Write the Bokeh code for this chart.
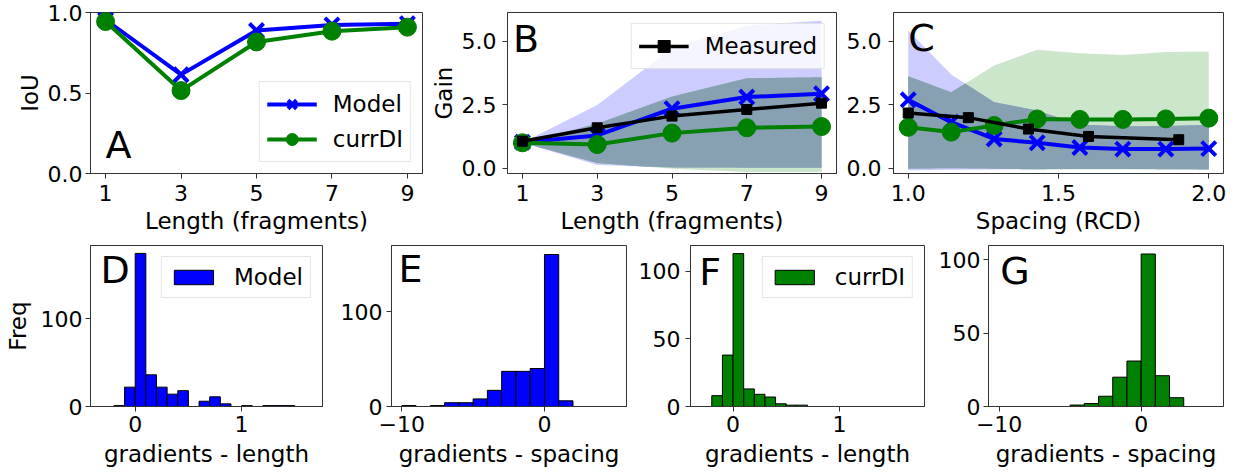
import numpy as np
from bokeh.plotting import figure
from bokeh.layouts import column, row
from bokeh.models import Range1d, FixedTicker, Legend, LegendItem, Label, PrintfTickFormatter
from bokeh.embed import file_html
from bokeh.resources import INLINE

FONT = "DejaVu Sans"
BLUE = "#0000ff"
GREEN = "#008000"
BLACK = "#000000"
OVERLAP = "#87a1b2"

# ---------------- data ----------------
# Panel A: IoU vs length
len_frag = [1, 3, 5, 7, 9]
iou_model = [0.955, 0.614, 0.888, 0.923, 0.930]
iou_curr = [0.944, 0.515, 0.817, 0.884, 0.909]

# Panel B: gain vs length
gain_len_model = [1.02, 1.29, 2.34, 2.80, 2.93]
gain_len_model_lo = [1.0, 0.12, 0.03, 0.02, 0.02]
gain_len_model_hi = [1.0, 2.49, 4.72, 5.62, 5.81]
gain_len_curr = [1.0, 0.93, 1.38, 1.59, 1.64]
gain_len_curr_lo = [1.0, 0.20, -0.02, -0.15, -0.15]
gain_len_curr_hi = [1.0, 1.75, 2.82, 3.54, 3.58]
gain_len_meas = [1.06, 1.59, 2.05, 2.31, 2.56]

# Panel C: gain vs spacing
spacing = [1.0, 1.143, 1.286, 1.429, 1.571, 1.714, 1.857, 2.0]
gain_sp_model = [2.69, 1.81, 1.15, 1.00, 0.81, 0.75, 0.75, 0.77]
gain_sp_model_lo = [-0.08, -0.06, -0.05, -0.04, -0.03, -0.03, -0.04, -0.05]
gain_sp_model_hi = [5.42, 3.69, 2.60, 2.27, 1.72, 1.65, 1.66, 1.71]
gain_sp_curr = [1.61, 1.42, 1.68, 1.94, 1.92, 1.92, 1.94, 1.97]
gain_sp_curr_lo = [-0.02, 0.0, -0.02, -0.05, -0.05, -0.05, -0.05, -0.05]
gain_sp_curr_hi = [3.62, 2.99, 4.04, 4.66, 4.53, 4.46, 4.57, 4.59]
spacing_meas = [1.0, 1.2, 1.4, 1.6, 1.9]
gain_sp_meas = [2.17, 1.99, 1.54, 1.25, 1.12]

# Histograms
len_bin_edges = [-0.2, -0.1, 0.0, 0.1, 0.2, 0.3, 0.4, 0.5, 0.6, 0.7, 0.8,
                 0.9, 1.0, 1.1, 1.2, 1.3, 1.4, 1.5]
grad_len_model = [1, 22, 174, 36, 22, 14, 18, 0, 6, 11, 3, 0, 1, 0, 1, 1, 1]
grad_len_curr = [8, 38, 113, 13, 9, 7, 2, 1, 1, 0, 0, 0, 0, 0, 0, 0, 0]
sp_bin_edges = [-10, -9, -8, -7, -6, -5, -4, -3, -2, -1, 0, 1, 2, 3, 4, 5]
grad_sp_model = [1, 0, 1, 4, 4, 8, 17, 37, 37, 40, 160, 6, 0, 0, 0]
grad_sp_curr = [0, 0, 0, 0, 0, 1, 2, 7, 20, 31, 104, 21, 6, 0, 0]


# ---------------- helpers ----------------
def make(xr, yr, fw, fh, bl, br, bt, bb):
    p = figure(width=bl + fw + br, height=bt + fh + bb, frame_width=fw, frame_height=fh,
               x_range=Range1d(*xr), y_range=Range1d(*yr),
               min_border_left=bl, min_border_right=br, min_border_top=bt, min_border_bottom=bb,
               output_backend="svg", toolbar_location=None)
    p.xgrid.visible = False
    p.ygrid.visible = False
    p.outline_line_color = "#333333"
    p.outline_line_width = 1
    p.outline_line_alpha = 1
    p.background_fill_color = "white"
    p.border_fill_color = "white"
    return p


def style(p, xticks, yticks, xlabel, ylabel, ystand, xstand, xlabstand, ylabstand=2,
          xfmt=None, yfmt=None, xover=None):
    for ax in (p.xaxis[0], p.yaxis[0]):
        ax.major_tick_in = 0
        ax.major_tick_out = 5
        ax.minor_tick_in = 0
        ax.minor_tick_out = 0
        ax.axis_line_color = "#333333"
        ax.major_tick_line_color = "#333333"
        ax.major_label_text_font = FONT
        ax.major_label_text_font_size = "22px"
        ax.major_label_text_color = "black"
        ax.axis_label_text_font = FONT
        ax.axis_label_text_font_size = "23px"
        ax.axis_label_text_font_style = "normal"
        ax.axis_label_text_color = "black"
    p.xaxis[0].axis_label_standoff = xlabstand
    p.yaxis[0].axis_label_standoff = ylabstand
    p.xaxis[0].major_label_standoff = xstand
    p.yaxis[0].major_label_standoff = ystand
    p.xaxis[0].ticker = FixedTicker(ticks=xticks)
    p.yaxis[0].ticker = FixedTicker(ticks=yticks)
    if xlabel:
        p.xaxis[0].axis_label = xlabel
    if ylabel:
        p.yaxis[0].axis_label = ylabel
    if xfmt:
        p.xaxis[0].formatter = PrintfTickFormatter(format=xfmt)
    if yfmt:
        p.yaxis[0].formatter = PrintfTickFormatter(format=yfmt)
    if xover:
        p.xaxis[0].major_label_overrides = xover


def letter(p, text, x, y):
    p.add_layout(Label(x=x, y=y, text=text, text_font=FONT, text_font_size="38px",
                       text_baseline="middle", text_align="left", text_color="black"))


def legend(p, items, loc, gw, gh, lh, pad):
    lg = Legend(items=items, location=loc, label_text_font=FONT, label_text_font_size="23px",
                label_text_color="black",
                glyph_width=gw, glyph_height=gh, label_height=lh, label_standoff=16,
                padding=pad, spacing=5, margin=11, border_line_color="#cccccc",
                border_line_width=1, background_fill_alpha=0.8)
    p.add_layout(lg)
    return lg


def overlap(x, lo1, hi1, lo2, hi2):
    x = np.asarray(x, float)
    grid = np.union1d(x, np.linspace(x[0], x[-1], 600))
    lo = np.maximum(np.interp(grid, x, lo1), np.interp(grid, x, lo2))
    hi = np.minimum(np.interp(grid, x, hi1), np.interp(grid, x, hi2))
    hi = np.maximum(hi, lo)
    return grid, lo, hi


def lines(p, x, y, color, marker, size, lw=4):
    l = p.line(x, y, line_color=color, line_width=lw)
    if marker == "x":
        m = p.scatter(x, y, marker="x", size=size, line_color=color, line_width=4)
    else:
        m = p.scatter(x, y, marker=marker, size=size, fill_color=color, line_color=color)
    return l, m


# ---------------- Panel A ----------------
pa = make((0.6, 9.4), (0.0, 1.0), 332, 161, 90, 1, 12, 64)
style(pa, len_frag, [0.0, 0.5, 1.0], "Length (fragments)", "IoU", 3, 6, 4, yfmt="%.1f")
la1, ma1 = lines(pa, len_frag, iou_model, BLUE, "x", 20)
la2, ma2 = lines(pa, len_frag, iou_curr, GREEN, "circle", 18)
legend(pa, [LegendItem(label="Model", renderers=[la1, ma1]),
            LegendItem(label="currDI", renderers=[la2, ma2])], "bottom_right", 50, 30, 30, 7)
letter(pa, "A", 1.0, 0.18)

# ---------------- Panel B ----------------
pb = make((0.6, 9.4), (-0.21, 6.13), 329, 161, 84, 5, 12, 64)
style(pb, len_frag, [0.0, 2.5, 5.0], "Length (fragments)", "Gain", 6, 6, 4, yfmt="%.1f")
pb.varea(len_frag, gain_len_model_lo, gain_len_model_hi, fill_color=BLUE, fill_alpha=0.2)
pb.varea(len_frag, gain_len_curr_lo, gain_len_curr_hi, fill_color=GREEN, fill_alpha=0.2)
gx, glo, ghi = overlap(len_frag, gain_len_model_lo, gain_len_model_hi, gain_len_curr_lo, gain_len_curr_hi)
pb.varea(gx, glo, ghi, fill_color=OVERLAP, fill_alpha=1.0)
lines(pb, len_frag, gain_len_model, BLUE, "x", 20)
lines(pb, len_frag, gain_len_curr, GREEN, "circle", 18)
lb, mb = lines(pb, len_frag, gain_len_meas, BLACK, "square", 10, lw=3.5)
legend(pb, [LegendItem(label="Measured", renderers=[lb, mb])], "top_right", 50, 30, 30, 7)
letter(pb, "B", 0.75, 5.09)

# ---------------- Panel C ----------------
pc = make((0.951, 2.049), (-0.21, 6.13), 330, 161, 52, 18, 12, 64)
style(pc, [1.0, 1.5, 2.0], [0.0, 2.5, 5.0], "Spacing (RCD)", None, 7, 6, 4, xfmt="%.1f", yfmt="%.1f")
pc.varea(spacing, gain_sp_model_lo, gain_sp_model_hi, fill_color=BLUE, fill_alpha=0.2)
pc.varea(spacing, gain_sp_curr_lo, gain_sp_curr_hi, fill_color=GREEN, fill_alpha=0.2)
cx, clo, chi = overlap(spacing, gain_sp_model_lo, gain_sp_model_hi, gain_sp_curr_lo, gain_sp_curr_hi)
pc.varea(cx, clo, chi, fill_color=OVERLAP, fill_alpha=1.0)
lines(pc, spacing, gain_sp_model, BLUE, "x", 20)
lines(pc, spacing, gain_sp_curr, GREEN, "circle", 18)
lines(pc, spacing_meas, gain_sp_meas, BLACK, "square", 10, lw=3.5)
letter(pc, "C", 1.0, 5.13)


# ---------------- Histograms ----------------
def hist(p, edges, counts, color):
    e = np.asarray(edges, float)
    return p.quad(left=e[:-1], right=e[1:], bottom=0, top=counts, fill_color=color,
                  line_color="black", line_width=1)


pd_ = make((-0.42, 1.76), (0, 183), 232, 161, 90, 11, 8, 67)
style(pd_, [0, 1], [0, 100], "gradients - length", "Freq", 3, 4, 6, ylabstand=7)
hd = hist(pd_, len_bin_edges, grad_len_model, BLUE)
legend(pd_, [LegendItem(label="Model", renderers=[hd])], "top_right", 49, 18, 26, 7)
letter(pd_, "D", -0.327, 155.5)

pe = make((-10.72, 5.75), (0, 169.5), 235, 161, 58, 6, 8, 67)
style(pe, [-10, 0], [0, 100], "gradients - spacing", None, 4, 4, 6, xover={-10: "\u221210"})
hist(pe, sp_bin_edges, grad_sp_model, BLUE)
letter(pe, "E", -10.23, 145)

pf = make((-0.40, 1.80), (0, 119), 234, 161, 58, 6, 8, 67)
style(pf, [0, 1], [0, 50, 100], "gradients - length", None, 5, 4, 6)
hf = hist(pf, len_bin_edges, grad_len_curr, GREEN)
legend(pf, [LegendItem(label="currDI", renderers=[hf])], "top_right", 49, 18, 26, 7)
letter(pf, "F", -0.317, 99.6)

pg = make((-10.75, 5.8), (0, 109.8), 235, 161, 58, 18, 8, 67)
style(pg, [-10, 0], [0, 50, 100], "gradients - spacing", None, 3, 4, 6, xover={-10: "\u221210"})
hist(pg, sp_bin_edges, grad_sp_curr, GREEN)
letter(pg, "G", -9.93, 92.7)

layout = column(row(pa, pb, pc, spacing=0), row(pd_, pe, pf, pg, spacing=0), spacing=0)
open("out.html", "w").write(file_html(layout, INLINE))
